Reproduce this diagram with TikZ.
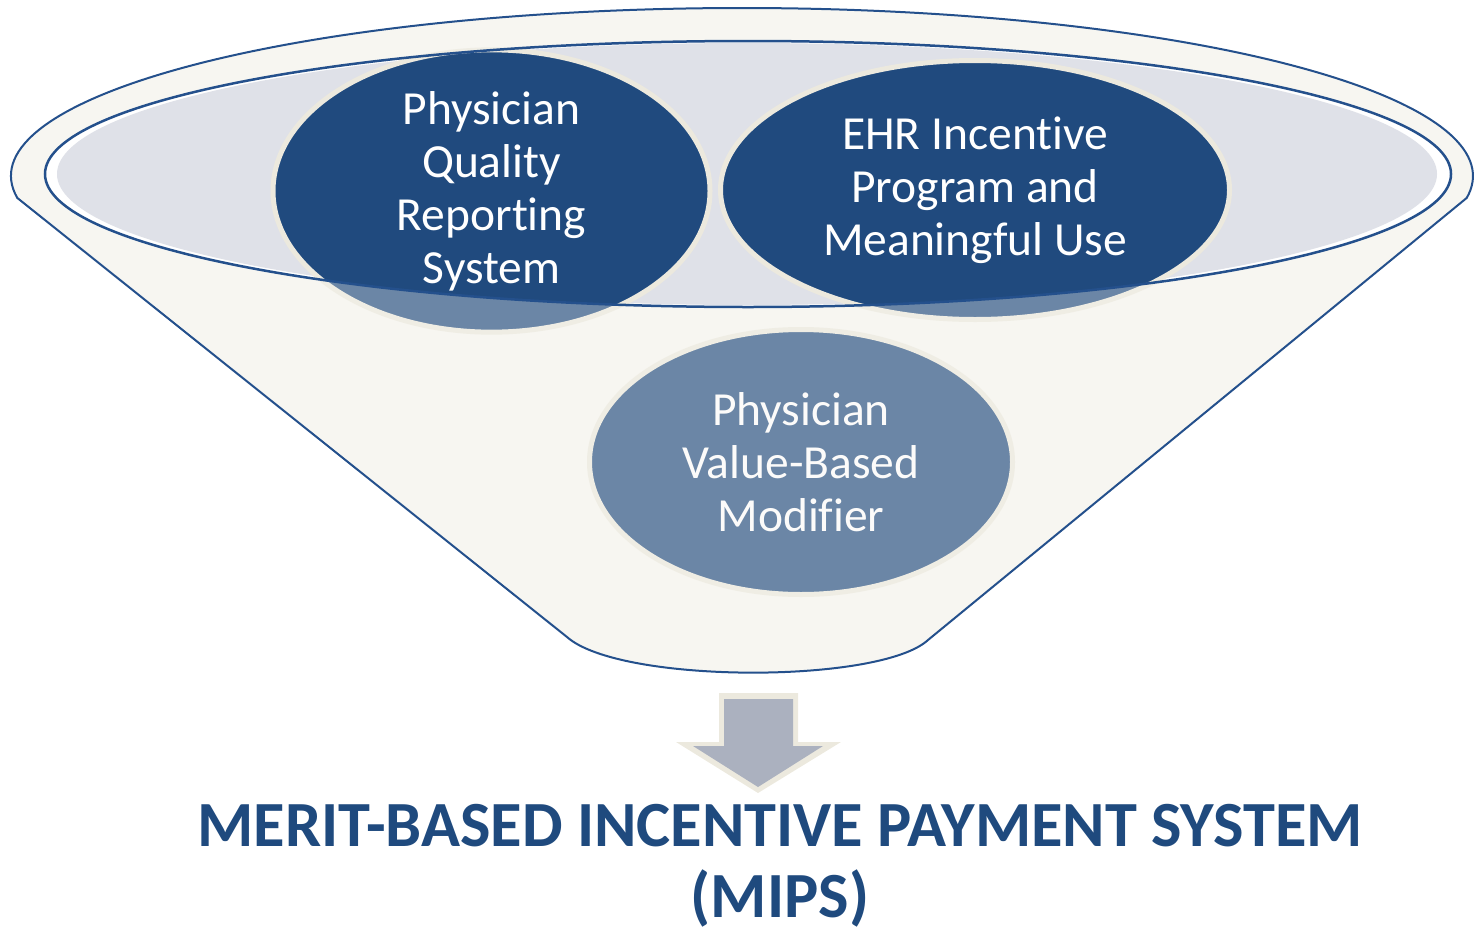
\documentclass[tikz,border=0pt]{standalone}
\usepackage{fontspec}
\setmainfont[Ligatures=NoCommon]{Carlito}
\usetikzlibrary{shapes.geometric}
\definecolor{navy}{HTML}{204A7E}
\definecolor{rim}{HTML}{24508C}
\definecolor{cream}{HTML}{F7F6F1}
\definecolor{ring}{HTML}{ECE9DE}
\definecolor{mouth}{HTML}{DFE1E8}
\definecolor{arrowfill}{HTML}{ABB1BF}
\definecolor{titleblue}{HTML}{1F4A7E}
\def\funnelpath{(742,-176) ++(187.5:731 and 168) arc[start angle=187.5,end angle=-7.5,x radius=731,y radius=168] -- (928,-640) .. controls (880,-684) and (620,-684) .. (567,-637) -- cycle}
\begin{document}
\begin{tikzpicture}[x=1pt,y=1pt,
  topic/.style={ellipse, fill=navy, draw=ring, line width=5pt, inner sep=0pt,
    text=white, align=center, font=\fontsize{47.5}{53}\selectfont},
  funnelline/.style={draw=rim, line width=2pt, line join=round},
  mouthline/.style={draw=rim, line width=2.5pt},
  titletext/.style={font=\fontsize{64.4}{71}\selectfont\bfseries, text=titleblue, align=center, inner sep=0pt}
]
\useasboundingbox (0,0) rectangle (1474,-926);
% funnel body
\fill[cream] \funnelpath;
% mouth of the funnel
\fill[white] (748,-174) ellipse[x radius=703, y radius=133];
\fill[mouth] (747,-174) ellipse[x radius=690, y radius=131];
% topics
\node[topic, minimum width=437pt, minimum height=261pt] (pqrs) at (491.5,-191)
  {Physician\\Quality\\Reporting\\System};
\node[topic, minimum width=509pt, minimum height=259pt] (ehr) at (975,-190)
  {EHR Incentive\\Program and\\Meaningful Use};
\node[topic, minimum width=423pt, minimum height=265pt] (vbm) at (801,-462)
  {Physician\\Value-Based\\Modifier};
% front wall of the funnel (semi-transparent)
\fill[cream, opacity=0.35, even odd rule] \funnelpath (748,-174) ellipse[x radius=703, y radius=133];
\draw[mouthline] (748,-174) ellipse[x radius=703, y radius=133];
\draw[funnelline] \funnelpath;
% arrow
\fill[ring] (719,-693) -- (798,-693) -- (798,-742) -- (841,-742) -- (758,-793) -- (676,-742) -- (719,-742) -- cycle;
\fill[arrowfill] (724,-699) -- (793,-699) -- (793,-746) -- (823,-746) -- (758,-787) -- (693,-746) -- (724,-746) -- cycle;
% title
\node[titletext] (title) at (780,-866) {MERIT-BASED INCENTIVE PAYMENT SYSTEM\\(MIPS)};
\end{tikzpicture}
\end{document}
